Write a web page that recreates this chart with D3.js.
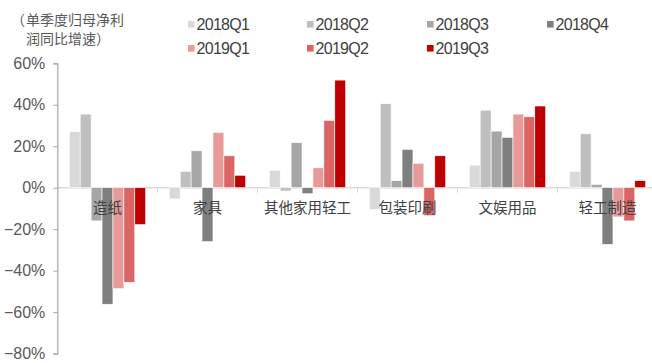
<!DOCTYPE html>
<html>
<head>
<meta charset="utf-8">
<script src="https://cdn.jsdelivr.net/npm/d3@7"></script>
<style>
  body { margin: 0; background: #fff; }
  svg text { font-family: "Liberation Sans", Arial, "Noto Sans CJK SC", sans-serif; }
</style>
</head>
<body>
<div id="chart"></div>
<script>
// categories and series
const categories = ['造纸', '家具', '其他家用轻工', '包装印刷', '文娱用品', '轻工制造'];
const seriesNames = ['2018Q1', '2018Q2', '2018Q3', '2018Q4', '2019Q1', '2019Q2', '2019Q3'];
const seriesColors = ['#d9d9d9', '#bfbfbf', '#a6a6a6', '#7f7f7f', '#e89a9a', '#d96565', '#c00000'];

// values in %, one array per series, same order as categories
const v2018Q1 = [27, -5.4, 8.4, -10.4, 10.9, 7.9];
const v2018Q2 = [35.5, 7.9, -1.6, 40.5, 37.4, 26];
const v2018Q3 = [-16, 17.8, 21.7, 3.4, 27.3, 1.6];
const v2018Q4 = [-56.2, -26, -2.9, 18.5, 24.3, -27.3];
const v2019Q1 = [-48.7, 26.7, 9.6, 11.8, 35.5, -14.1];
const v2019Q2 = [-45.6, 15.4, 32.5, -13.5, 34.2, -16];
const v2019Q3 = [-17.8, 6, 51.9, 15.4, 39.4, 3.4];
const seriesValues = [v2018Q1, v2018Q2, v2018Q3, v2018Q4, v2019Q1, v2019Q2, v2019Q3];

const yTicks = [60, 40, 20, 0, -20, -40, -60, -80];

const W = 652, H = 363;
const svg = d3.select('#chart').append('svg')
    .attr('width', W).attr('height', H);

// scales
const y = d3.scaleLinear().domain([-80, 60]).range([353.6, 63.3]);
const x0 = d3.scaleBand().domain(categories).range([57.5, 657.5]).paddingInner(0).paddingOuter(0);
const x1 = d3.scaleBand().domain(seriesNames).range([0, x0.bandwidth()]).paddingInner(0).paddingOuter(1.08);

// zero line with category separators
svg.append('line')
    .attr('x1', 57).attr('x2', W)
    .attr('y1', y(0)).attr('y2', y(0))
    .attr('stroke', '#d9d9d9').attr('stroke-width', 1.5);
svg.selectAll('.sep')
    .data(categories.slice(1))
    .enter().append('line')
    .attr('class', 'sep')
    .attr('x1', d => x0(d)).attr('x2', d => x0(d))
    .attr('y1', y(0)).attr('y2', y(0) + 5)
    .attr('stroke', '#d9d9d9').attr('stroke-width', 1);

// bars
const rows = [];
seriesNames.forEach((s, i) => {
    categories.forEach((c, j) => {
        rows.push({cat: c, series: s, color: seriesColors[i], value: seriesValues[i][j]});
    });
});
svg.append('g').selectAll('rect')
    .data(rows)
    .enter().append('rect')
    .attr('x', d => x0(d.cat) + x1(d.series))
    .attr('width', x1.bandwidth())
    .attr('y', d => y(Math.max(0, d.value)))
    .attr('height', d => Math.abs(y(d.value) - y(0)))
    .attr('fill', d => d.color)
    .attr('stroke', '#fff').attr('stroke-width', 0.6);

// y axis
const yAxis = d3.axisLeft(y)
    .tickValues(yTicks)
    .tickSize(4)
    .tickPadding(8)
    .tickFormat(d => d + '%');
const gy = svg.append('g')
    .attr('transform', 'translate(57.3,0)')
    .call(yAxis);
gy.select('.domain').attr('stroke', '#a6a6a6').attr('stroke-width', 1.2);
gy.selectAll('.tick line').attr('stroke', '#a6a6a6');
gy.selectAll('.tick text')
    .attr('fill', '#595959')
    .style('font-size', '16px')
    .style('font-family', '"Liberation Sans", Arial, sans-serif')
    .text(d => d < 0 ? '\u2212' + Math.abs(d) + '%' : d + '%');

// category labels, drawn over the bars
svg.append('g').selectAll('text')
    .data(categories)
    .enter().append('text')
    .attr('x', d => x0(d) + x0.bandwidth() / 2)
    .attr('y', 213)
    .attr('text-anchor', 'middle')
    .attr('fill', '#404040')
    .style('font-size', '14.5px')
    .style('font-family', '"Noto Sans CJK SC", sans-serif')
    .text(d => d);

// title (two lines)
const title = svg.append('g').attr('fill', '#595959');
const t1 = title.append('text').attr('y', 25.3)
    .style('font-family', '"Noto Sans CJK SC", sans-serif').style('font-size', '14px');
t1.append('tspan').attr('x', 11).text('（');
t1.append('tspan').attr('x', 26).text('单季度归母净利');
title.append('text').attr('x', 26).attr('y', 43.8)
    .style('font-family', '"Noto Sans CJK SC", sans-serif').style('font-size', '14px')
    .text('润同比增速）');

// legend
const legendX = [188, 307, 427, 547];
const legendY = [21, 45];
const legend = svg.append('g').selectAll('g')
    .data(seriesNames)
    .enter().append('g')
    .attr('transform', (d, i) => `translate(${legendX[i % 4]},${legendY[Math.floor(i / 4)]})`);
legend.append('rect')
    .attr('width', 6.6).attr('height', 6.6)
    .attr('fill', (d, i) => seriesColors[i]);
legend.append('text')
    .attr('x', 8.5).attr('y', 8.7)
    .attr('fill', '#404040')
    .style('font-size', '16px')
    .style('letter-spacing', '-0.7px')
    .text(d => d);
</script>
</body>
</html>
